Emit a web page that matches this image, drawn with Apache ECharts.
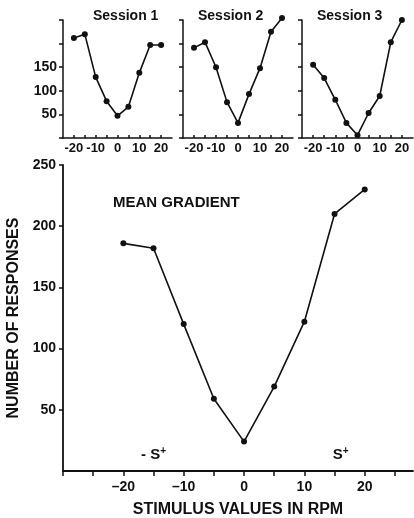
<!DOCTYPE html>
<html>
<head>
<meta charset="utf-8">
<script src="https://cdn.jsdelivr.net/npm/echarts@6/dist/echarts.min.js"></script>
<style>
  html, body { margin: 0; padding: 0; background: #fff; }
  #chart { width: 414px; height: 518px; }
</style>
</head>
<body>
<div id="chart"></div>
<script>
// stimulus values (rpm) shared by every panel
var stimulus = [-20, -15, -10, -5, 0, 5, 10, 15, 20];
var session1 = [212, 220, 129, 78, 47, 66, 138, 197, 197];
var session2 = [191, 203, 150, 76, 32, 93, 148, 225, 254];
var session3 = [155, 127, 81, 32, 6, 53, 89, 203, 250];
var meanGradient = [186, 182, 120, 59, 24, 69, 122, 210, 230];
var sessionTitles = ['Session 1', 'Session 2', 'Session 3'];
var smallYLabels = [50, 100, 150];
var mainXLabels = [-20, -10, 0, 10, 20];

var font = 'Liberation Sans, Arial, Helvetica, sans-serif';
var ink = '#111';

function pairs(ys) {
    var res = [];
    for (var i = 0; i < stimulus.length; i++) {
        res.push([stimulus[i], ys[i]]);
    }
    return res;
}

var chart = echarts.init(document.getElementById('chart'));

// small panels: left edge / width in px
var panels = [
    {left: 63, width: 109, data: session1, yLabels: true},
    {left: 183, width: 110, data: session2, yLabels: false},
    {left: 302, width: 111, data: session3, yLabels: false}
];
var titleLeft = [88, 193, 312];

var grids = [], xAxes = [], yAxes = [], series = [], titles = [];

panels.forEach(function (p, i) {
    grids.push({left: p.left, width: p.width, top: 20, height: 118, outerBoundsMode: 'none'});
    xAxes.push({
        type: 'value', gridIndex: i, min: -25, max: 25, interval: 5,
        axisLine: {onZero: false, lineStyle: {color: ink, width: 1.5}},
        axisTick: {inside: true, length: 3, lineStyle: {color: ink, width: 1.5}},
        splitLine: {show: false},
        axisLabel: {
            margin: 4, color: ink, fontFamily: font, fontWeight: 'bold', fontSize: 13,
            showMinLabel: false, showMaxLabel: false,
            formatter: function (v) {
                return (v % 10 === 0 && Math.abs(v) <= 20) ? String(v) : '';
            }
        }
    });
    yAxes.push({
        type: 'value', gridIndex: i, min: 0, max: 250, interval: 50,
        axisLine: {show: true, onZero: false, lineStyle: {color: ink, width: 1.5}},
        axisTick: {show: true, length: 4, lineStyle: {color: ink, width: 1.5}},
        splitLine: {show: false},
        axisLabel: {
            show: p.yLabels, margin: 6, color: ink, fontFamily: font,
            fontWeight: 'bold', fontSize: 14,
            formatter: function (v) {
                return smallYLabels.indexOf(v) >= 0 ? String(v) : '';
            }
        }
    });
    series.push({
        type: 'line', xAxisIndex: i, yAxisIndex: i,
        data: pairs(p.data), clip: false,
        symbol: 'circle', symbolSize: 6,
        lineStyle: {color: ink, width: 1.6},
        itemStyle: {color: ink},
        animation: false
    });
    titles.push({
        text: sessionTitles[i], left: titleLeft[i], top: 4,
        textStyle: {fontFamily: font, fontWeight: 'bold', fontSize: 14, color: ink}
    });
});

// main panel
grids.push({left: 63, right: 1, top: 165, bottom: 47, outerBoundsMode: 'none'});
xAxes.push({
    type: 'value', gridIndex: 3, min: -30, max: 28, interval: 5,
    name: 'STIMULUS VALUES IN RPM', nameLocation: 'middle', nameGap: 31,
    nameTextStyle: {fontFamily: font, fontWeight: 'bold', fontSize: 16, color: ink},
    axisLine: {onZero: false, lineStyle: {color: ink, width: 1.8}},
    axisTick: {length: 5, lineStyle: {color: ink, width: 1.5}},
    splitLine: {show: false},
    axisLabel: {
        margin: 9, color: ink, fontFamily: font, fontWeight: 'bold', fontSize: 14,
        showMaxLabel: false,
        formatter: function (v) {
            if (mainXLabels.indexOf(v) < 0) return '';
            return v < 0 ? '\u2013' + Math.abs(v) : String(v);
        }
    }
});
yAxes.push({
    type: 'value', gridIndex: 3, min: 0, max: 250, interval: 50,
    name: 'NUMBER OF RESPONSES', nameLocation: 'middle', nameGap: 36,
    nameTextStyle: {fontFamily: font, fontWeight: 'bold', fontSize: 16, color: ink},
    axisLine: {show: true, onZero: false, lineStyle: {color: ink, width: 1.8}},
    axisTick: {show: true, length: 4, lineStyle: {color: ink, width: 1.5}},
    splitLine: {show: false},
    axisLabel: {
        margin: 7, color: ink, fontFamily: font, fontWeight: 'bold', fontSize: 14,
        showMinLabel: false
    }
});
series.push({
    type: 'line', xAxisIndex: 3, yAxisIndex: 3,
    data: pairs(meanGradient),
    symbol: 'circle', symbolSize: 6,
    lineStyle: {color: ink, width: 1.6},
    itemStyle: {color: ink},
    animation: false,
    markPoint: {
        symbol: 'circle', symbolSize: 0,
        label: {
            show: true, position: 'inside', color: ink,
            fontFamily: font, fontWeight: 'bold', fontSize: 15,
            formatter: '{b}',
            rich: {sup: {fontSize: 10, fontWeight: 'bold', verticalAlign: 'top', padding: [0, 0, 8, 0]}}
        },
        data: [
            {name: '-S', coord: [-15, 13], label: {formatter: '- S{sup|+}'}},
            {name: 'S', coord: [16, 13], label: {formatter: 'S{sup|+}'}}
        ]
    }
});
titles.push({
    text: 'MEAN GRADIENT', left: 108, top: 190,
    textStyle: {fontFamily: font, fontWeight: 'bold', fontSize: 15, color: ink}
});

chart.setOption({
    backgroundColor: '#fff',
    animation: false,
    title: titles,
    grid: grids,
    xAxis: xAxes,
    yAxis: yAxes,
    series: series
});
</script>
</body>
</html>
